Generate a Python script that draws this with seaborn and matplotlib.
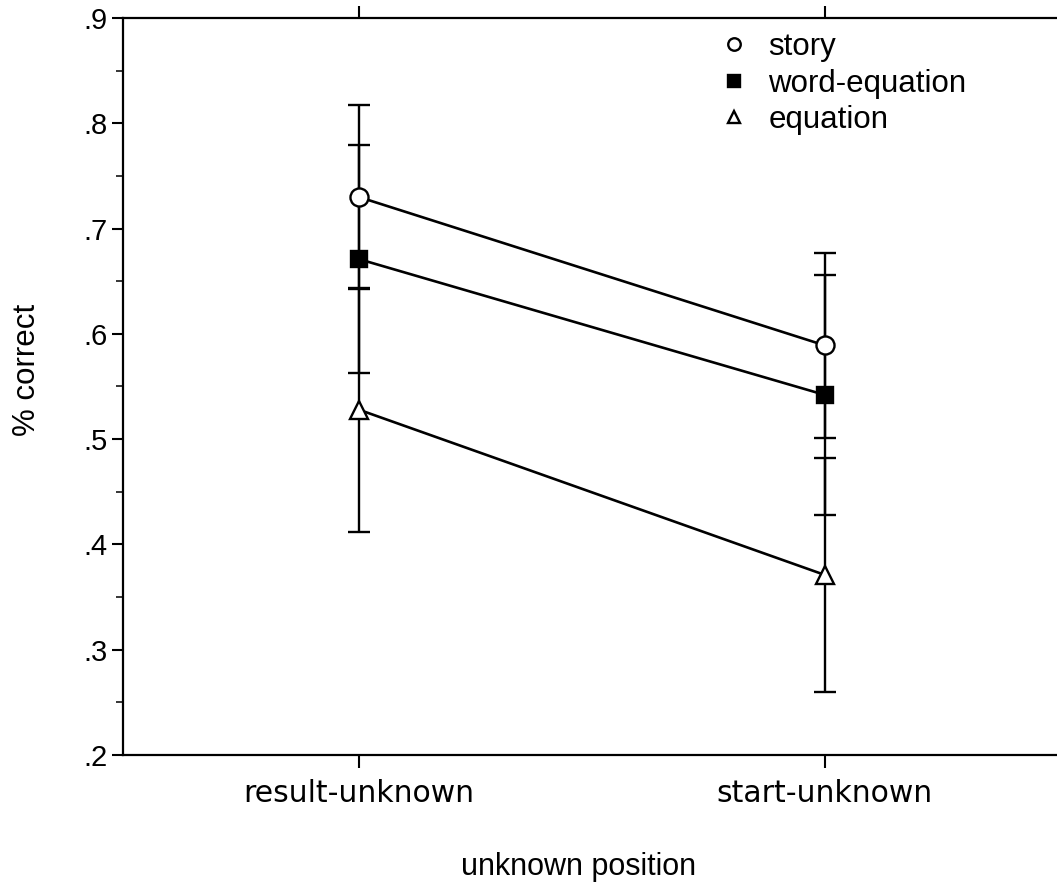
import matplotlib
matplotlib.use("Agg")
import matplotlib.pyplot as plt
import seaborn as sns
import numpy as np
from matplotlib.lines import Line2D
from matplotlib.ticker import MultipleLocator

categories = ["result-unknown", "start-unknown"]
series = ["story", "word-equation", "equation"]
story_mean = [0.730, 0.589]
story_err = [0.087, 0.088]
wordeq_mean = [0.671, 0.542]
wordeq_err = [0.108, 0.114]
equation_mean = [0.528, 0.371]
equation_err = [0.116, 0.111]
yticks = [0.2, 0.3, 0.4, 0.5, 0.6, 0.7, 0.8, 0.9]
ytick_labels = [".2", ".3", ".4", ".5", ".6", ".7", ".8", ".9"]

sns.set_theme(style="ticks")
plt.rcParams['font.family'] = ['Liberation Sans', 'DejaVu Sans']

fig = plt.figure(figsize=(10.57, 8.88), dpi=100)
ax = fig.add_axes([123/1057, 133/888, 1 - 123/1057, (755-18)/888])

styles = [
    (story_mean, story_err, "o", "white", 13),
    (wordeq_mean, wordeq_err, "s", "black", 12),
    (equation_mean, equation_err, "^", "white", 13),
]
handles = []
for name, (m, e, mk, fc, ms) in zip(series, styles):
    ax.errorbar(range(len(categories)), m, yerr=e, fmt="none", ecolor="black",
                elinewidth=1.7, capsize=8, capthick=1.7, zorder=1)
    sns.pointplot(x=categories, y=m, color="black", marker=mk, markersize=ms,
                  markerfacecolor=fc, markeredgecolor="black", markeredgewidth=1.7,
                  linewidth=1.9, errorbar=None, ax=ax, zorder=3)
    handles.append(Line2D([], [], linestyle="none", marker=mk, markersize=9,
                          markerfacecolor=fc, markeredgecolor="black",
                          markeredgewidth=1.7, label=name))

ax.set_xlim(-0.506, 1.498)
ax.set_ylim(0.2, 0.9)
ax.set_yticks(yticks)
ax.set_yticklabels(ytick_labels)
ax.yaxis.set_minor_locator(MultipleLocator(0.05))
ax.set_xticks([0, 1])
ax.set_xticklabels(categories, fontfamily="DejaVu Sans")

for s in ["left", "top", "bottom"]:
    ax.spines[s].set_visible(True)
    ax.spines[s].set_linewidth(1.6)
    ax.spines[s].set_color("black")
ax.spines["right"].set_visible(False)

ax.tick_params(axis="y", which="major", direction="out", length=8, width=1.5,
               labelsize=21, colors="black", pad=3)
ax.tick_params(axis="y", which="minor", direction="out", length=5, width=1.3)
ax.tick_params(axis="x", which="major", direction="out", length=9, width=1.5,
               labelsize=21.5, colors="black", pad=8, top=True)

ax.set_xlabel("unknown position", fontsize=22, color="black", va="top")
ax.xaxis.set_label_coords((579 - 123) / 934, (755 - 852) / 737)
ax.set_ylabel("% correct", fontsize=22.5, color="black")
ax.yaxis.set_label_coords((42 - 123) / 934, (755 - 370) / 737)

leg = ax.legend(handles=handles, loc="upper left",
                bbox_to_anchor=((720 - 123) / 934, (755 - 32) / 737),
                frameon=False, fontsize=22.5, handletextpad=0.65, labelspacing=0.21,
                handlelength=0.9, borderaxespad=0, borderpad=0, labelcolor="black")

fig.savefig("out.png", dpi=100, facecolor="white")
